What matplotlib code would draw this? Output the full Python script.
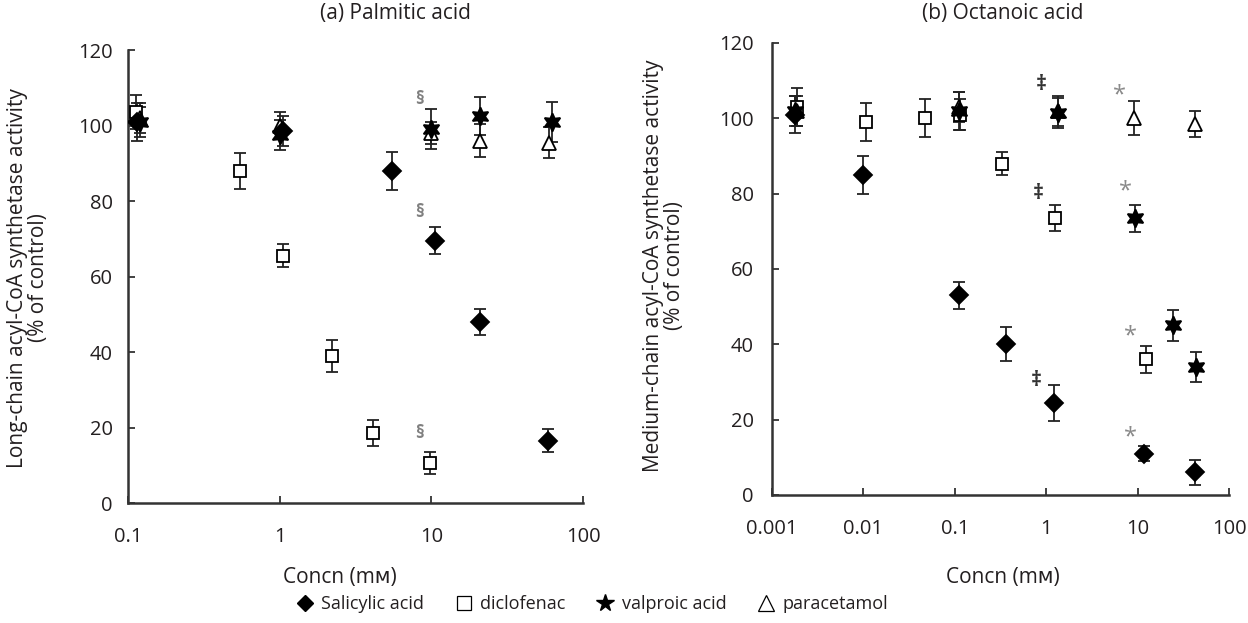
import numpy as np
import matplotlib
matplotlib.use("Agg")
import matplotlib.pyplot as plt
from matplotlib.lines import Line2D

plt.rcParams['font.family'] = ['Open Sans', 'DejaVu Sans']
plt.rcParams['font.size'] = 15
TXT = '#231f20'

# ---- (a) Palmitic acid ----
a_sal_x = [0.115, 1.05, 5.5, 10.5, 21, 59]
a_sal_y = [101, 98.5, 88, 69.5, 48, 16.5]
a_sal_e = [5, 4, 5, 3.5, 3.5, 3]

a_dic_x = [0.113, 0.55, 1.05, 2.2, 4.1, 9.8]
a_dic_y = [103.5, 88, 65.5, 39, 18.5, 10.6]
a_dic_e = [4.5, 4.8, 3, 4.2, 3.5, 3]

a_val_x = [0.12, 1.0, 10, 21, 62]
a_val_y = [101, 97.5, 99, 102.5, 101]
a_val_e = [4, 4, 5.3, 5, 5.3]

a_par_x = [0.12, 1.0, 10, 21, 60]
a_par_y = [102, 100, 98, 96, 95.5]
a_par_e = [4, 3.5, 3, 4.3, 4]

a_sig_x = [8.3, 8.3, 8.3]
a_sig_y = [107, 77, 18.5]

# ---- (b) Octanoic acid ----
b_sal_x = [0.0018, 0.01, 0.11, 0.36, 1.22, 11.7, 42]
b_sal_y = [101, 85, 53, 40, 24.5, 11, 6]
b_sal_e = [5, 5, 3.5, 4.5, 4.8, 2, 3.3]

b_dic_x = [0.0019, 0.0107, 0.047, 0.115, 0.33, 1.26, 12.2]
b_dic_y = [103, 99, 100, 101, 88, 73.5, 36]
b_dic_e = [5, 5, 5, 4, 3, 3.5, 3.5]

b_val_x = [0.0018, 0.11, 1.35, 9.4, 24.6, 44]
b_val_y = [102, 102, 101.5, 73.5, 45, 34]
b_val_e = [4, 5, 4, 3.6, 4, 4]

b_par_x = [0.0019, 0.11, 1.35, 9.2, 42]
b_par_y = [102, 103, 102, 100, 98.5]
b_par_e = [4, 4, 4, 4.5, 3.5]

b_dd_x = [0.88, 0.82, 0.78]
b_dd_y = [109, 80, 30.5]
b_st_x = [6.4, 7.4, 8.4, 8.4]
b_st_y = [107.5, 82, 43.5, 16.7]


def draw_series(ax, x, y, e, marker, ms, filled):
    ax.errorbar(x, y, yerr=e, fmt='none', ecolor='#222222', elinewidth=1.3,
                capsize=4, capthick=1.3, zorder=2)
    ax.plot(x, y, ls='none', marker=marker, ms=ms,
            mfc='black' if filled else 'white', mec='black', mew=1.3, zorder=3)


def style_axis(ax, xmin, ticks, labels, ypad):
    ax.set_xscale('log')
    ax.set_xlim(xmin, 100)
    ax.set_ylim(0, 120)
    ax.set_xticks(ticks)
    ax.set_xticklabels(labels)
    ax.minorticks_off()
    ax.set_yticks(np.arange(0, 121, 20))
    for s in ['top', 'right']:
        ax.spines[s].set_visible(False)
    for s in ['left', 'bottom']:
        ax.spines[s].set_linewidth(1.8)
        ax.spines[s].set_color('#333333')
    ax.tick_params(axis='both', direction='in', length=5, width=1.3,
                   colors='#333333', labelcolor=TXT, labelsize=14.5)
    ax.tick_params(axis='x', pad=17)
    ax.tick_params(axis='y', pad=ypad)


fig = plt.figure(figsize=(12.48, 6.23), dpi=100)
ax1 = fig.add_axes([0.1026, 0.1926, 0.3646, 0.727])
ax2 = fig.add_axes([0.6186, 0.2055, 0.3662, 0.7255])

draw_series(ax1, a_dic_x, a_dic_y, a_dic_e, 's', 9, False)
draw_series(ax1, a_par_x, a_par_y, a_par_e, '^', 10, False)
draw_series(ax1, a_sal_x, a_sal_y, a_sal_e, 'D', 9, True)
draw_series(ax1, a_val_x, a_val_y, a_val_e, (6, 1, 0), 13, True)
for x, y in zip(a_sig_x, a_sig_y):
    ax1.text(x, y, '§', color='#808080', fontsize=13, ha='center', va='center',
             fontweight='bold')
style_axis(ax1, 0.1, [0.1, 1, 10, 100], ['0.1', '1', '10', '100'], 11)

draw_series(ax2, b_dic_x, b_dic_y, b_dic_e, 's', 9, False)
draw_series(ax2, b_par_x, b_par_y, b_par_e, '^', 10, False)
draw_series(ax2, b_sal_x, b_sal_y, b_sal_e, 'D', 9, True)
draw_series(ax2, b_val_x, b_val_y, b_val_e, (6, 1, 0), 13, True)
for x, y in zip(b_dd_x, b_dd_y):
    ax2.text(x, y, '‡', color='#333333', fontsize=15, ha='center', va='center',
             fontweight='bold')
for x, y in zip(b_st_x, b_st_y):
    ax2.text(x, y - 1.5, '*', color='#8a8a8a', fontsize=17, ha='center',
             va='center')
style_axis(ax2, 0.001, [0.001, 0.01, 0.1, 1, 10, 100],
           ['0.001', '0.01', '0.1', '1', '10', '100'], 13)

# titles and axis labels
fig.text(395 / 1248, 1 - 14 / 623, '(a) Palmitic acid', ha='center', va='center',
         fontsize=15, color=TXT)
fig.text(1003 / 1248, 1 - 14 / 623, '(b) Octanoic acid', ha='center', va='center',
         fontsize=15, color=TXT)
fig.text(340 / 1248, 1 - 577 / 623, 'Concn (mᴍ)', ha='center', va='center',
         fontsize=15, color=TXT)
fig.text(1003 / 1248, 1 - 577 / 623, 'Concn (mᴍ)', ha='center', va='center',
         fontsize=15, color=TXT)
fig.text(28 / 1248, 1 - 278 / 623,
         'Long-chain acyl-CoA synthetase activity\n(% of control)',
         rotation=90, ha='center', va='center', fontsize=15, color=TXT,
         linespacing=1.0)
fig.text(664 / 1248, 1 - 266 / 623,
         'Medium-chain acyl-CoA synthetase activity\n(% of control)',
         rotation=90, ha='center', va='center', fontsize=15, color=TXT,
         linespacing=1.0)

handles = [
    Line2D([], [], ls='none', marker='D', ms=8, mfc='black', mec='black'),
    Line2D([], [], ls='none', marker='s', ms=10, mfc='white', mec='black', mew=0.9),
    Line2D([], [], ls='none', marker='*', ms=13, mfc='black', mec='black'),
    Line2D([], [], ls='none', marker='^', ms=11, mfc='white', mec='black', mew=0.9),
]
names = ['Salicylic acid', 'diclofenac', 'valproic acid', 'paracetamol']
leg = fig.legend(handles, names, loc='center', bbox_to_anchor=(592 / 1248, 1 - 604 / 623),
                 ncol=4, frameon=False, handlelength=1.0, handletextpad=0.4,
                 columnspacing=1.7, fontsize=13)
for t in leg.get_texts():
    t.set_color(TXT)

fig.savefig('out.png', dpi=100)
